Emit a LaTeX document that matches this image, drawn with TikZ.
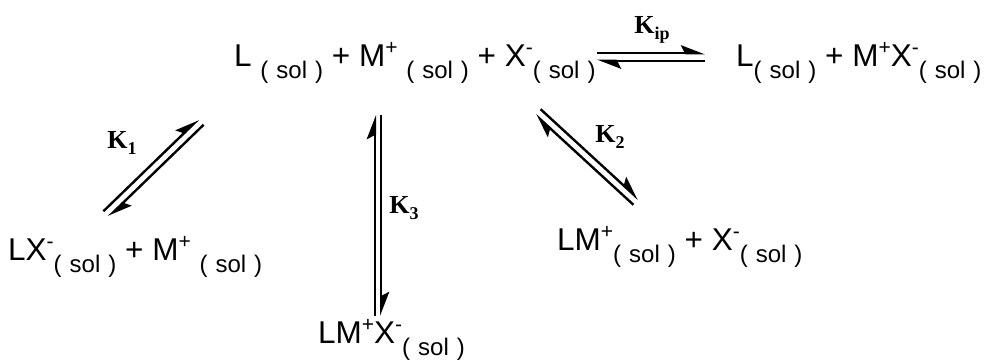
\documentclass[tikz,border=0pt]{standalone}
\usepackage{fontspec}
\setmainfont{Liberation Sans}
\newfontfamily\kfont{Liberation Serif}
\usetikzlibrary{arrows.meta,calc}
\newcommand\solv{\raisebox{-12pt}{\fontsize{24}{24}\selectfont(\,\,sol\,\,)}}
\newcommand\chg[1]{\raisebox{12pt}{\fontsize{21}{21}\selectfont #1}}
\newcommand\kname[1]{{\kfont\bfseries\fontsize{26}{26}\selectfont K\raisebox{-6pt}{\fontsize{18}{18}\selectfont #1}}}
\tikzset{
  species/.style={inner sep=0pt, anchor=base west, font=\fontsize{31.5}{31.5}\selectfont},
  klabel/.style={inner sep=0pt},
  eqline/.style={line width=2.4pt, -{Stealth[harpoon, length=21pt, width=16pt, inset=4pt]}}
}
\newcommand\equil[3]{%
  \draw[eqline] ($(#1)!#3!90:(#2)$) -- ($(#2)!#3!-90:(#1)$);
  \draw[eqline] ($(#2)!#3!90:(#1)$) -- ($(#1)!#3!-90:(#2)$);
}
\begin{document}
\begin{tikzpicture}[x=1pt,y=-1pt]
\useasboundingbox (0,0) rectangle (990,360);
% species
\node[species] (top) at (234,66) {L \solv{} + M\chg{+} \solv{} + X\chg{-}\solv};
\node[species] (ip) at (736,66) {L\solv{} + M\chg{+}X\chg{-}\solv};
\node[species] (lx) at (8,260) {LX\chg{-}\solv{} + M\chg{+} \solv};
\node[species] (lm) at (557,250) {LM\chg{+}\solv{} + X\chg{-}\solv};
\node[species] (lmx) at (318,343) {LM\chg{+}X\chg{-}\solv};
% arrow ends
\coordinate (ipA) at (597,57);
\coordinate (ipB) at (705,57);
\coordinate (k1A) at (106,214);
\coordinate (k1B) at (201,122);
\coordinate (k3A) at (378,316);
\coordinate (k3B) at (378,115);
\coordinate (k2A) at (636,202);
\coordinate (k2B) at (538,112);
\equil{ipA}{ipB}{3.8pt}
\equil{k1A}{k1B}{3.8pt}
\equil{k3A}{k3B}{3.2pt}
\equil{k2A}{k2B}{3.8pt}
% labels
\node[klabel] (lip) at (652,30) {\kname{ip}};
\node[klabel] (l1) at (122,143) {\kname{1}};
\node[klabel] (l3) at (404,208) {\kname{3}};
\node[klabel] (l2) at (610,137) {\kname{2}};
\end{tikzpicture}
\end{document}
